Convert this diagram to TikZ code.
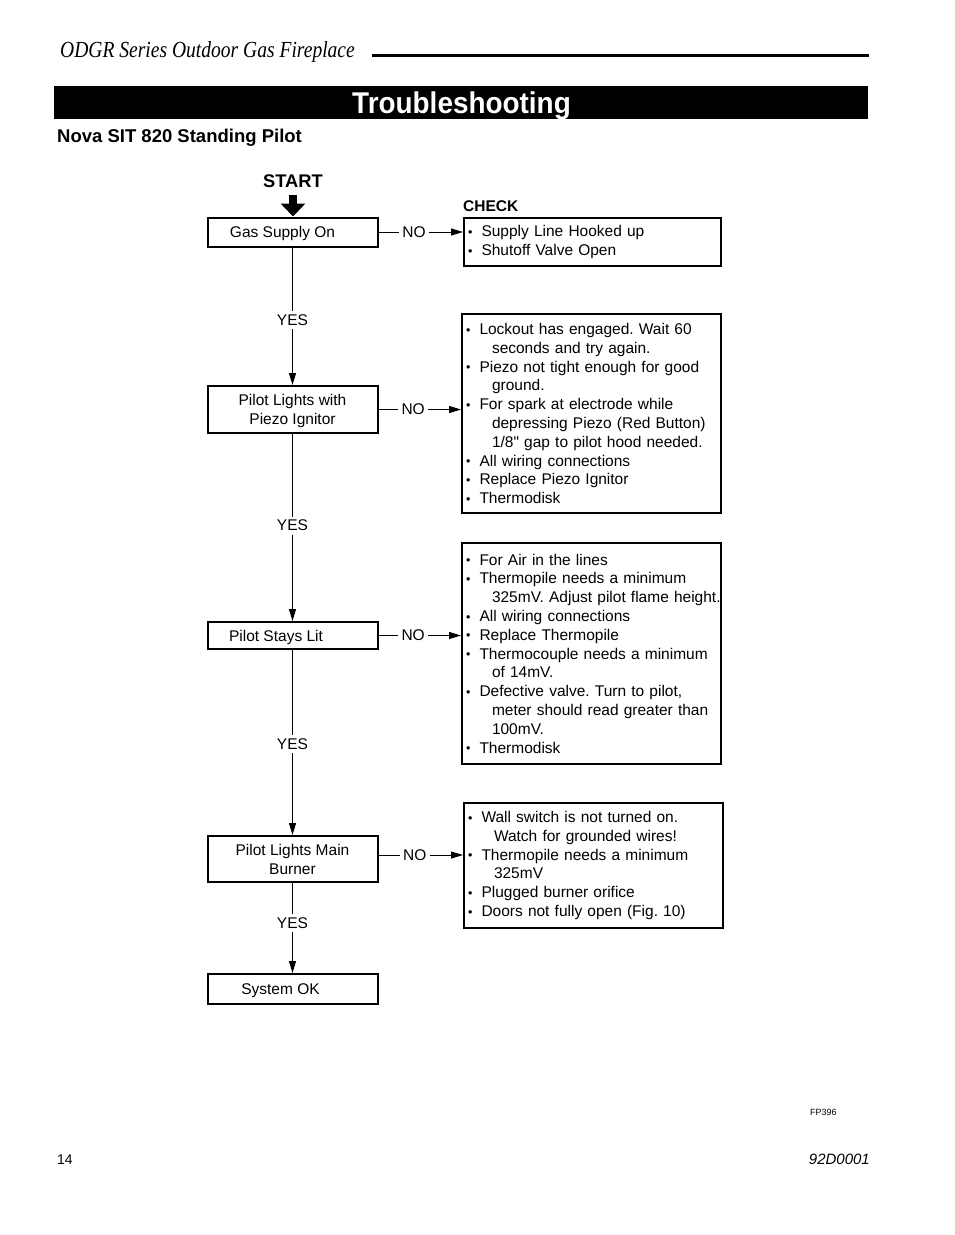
\documentclass[tikz,border=0pt]{standalone}
\usepackage{fontspec}
\setmainfont{Liberation Sans}[Ligatures=TeXOff]
\newfontfamily\serifit{Liberation Serif}
\usetikzlibrary{arrows.meta}
\frenchspacing
\newcommand\bul{\makebox[13.5pt][l]{\raisebox{0.4pt}{\fontsize{12.5}{12.5}\selectfont •}}}
\newcommand\itm[1]{\mbox{\bul#1}}
\newcommand\cnt[1]{\mbox{\hspace*{26pt}#1}}
\begin{document}
\begin{tikzpicture}[x=1pt,y=-1pt,
  txt/.style={font=\fontsize{15.5}{18.8}\selectfont},
  stepbox/.style={draw, line width=2pt, txt, inner sep=0pt, align=center, minimum width=170pt, text depth=0pt},
  chkbox/.style={draw, line width=2pt, txt, inner xsep=4pt, inner ysep=0pt, align=left},
  conn/.style={line width=1pt, -{Triangle[length=12pt,width=7pt]}},
  lbl/.style={fill=white, txt, inner xsep=3.5pt, inner ysep=3.5pt},
]
\useasboundingbox (0,0) rectangle (954,1235);
% header
\node[anchor=base west, inner sep=0pt, font=\serifit\itshape\fontsize{23}{23}\selectfont] (hdr) at (60,57) {\scalebox{0.85}[1]{ODGR Series Outdoor Gas Fireplace}};
\draw[line width=3pt] (372,55) -- (869,55);
\node[fill=black, minimum width=814pt, minimum height=33pt, inner sep=0pt] (bar) at (461,102.5) {};
\node[anchor=base, inner sep=0pt, text=white, font=\bfseries\fontsize{30}{30}\selectfont] (bartitle) at (461.5,113) {\scalebox{0.93}[1]{Troubleshooting}};
\node[anchor=base west, inner sep=0pt, font=\bfseries\fontsize{18.5}{18.5}\selectfont] (sub) at (57,142) {Nova SIT 820 Standing Pilot};
% start
\node[anchor=base, font=\bfseries\fontsize{18.3}{18.3}\selectfont] (start) at (293,187) {START};
\node[anchor=base west, inner sep=0pt, font=\bfseries\fontsize{15.5}{15.5}\selectfont] (check) at (463,211) {CHECK};
% steps
\node[stepbox, minimum height=29pt] (b1) at (292.5,232) {Gas Supply On\hspace*{20pt}};
\node[stepbox, minimum height=47pt] (b2) at (292.5,409.5) {Pilot Lights with\\Piezo Ignitor};
\node[stepbox, minimum height=27pt] (b3) at (292.5,635.5) {Pilot Stays Lit\hspace*{33pt}};
\node[stepbox, minimum height=46pt] (b4) at (292.5,859) {Pilot Lights Main\\Burner};
\node[stepbox, minimum height=30pt] (b5) at (292.5,989) {System OK\hspace*{24pt}};
% checks
\node[chkbox, text width=249pt, minimum height=48pt] (c1) at (592.5,242) {\itm{Supply Line Hooked up}\\\itm{Shutoff Valve Open}};
\node[chkbox, text width=251pt, minimum height=199pt] (c2) at (591.5,413.5) {\itm{Lockout has engaged. Wait 60}\\\cnt{seconds and try again.}\\\itm{Piezo not tight enough for good}\\\cnt{ground.}\\\itm{For spark at electrode while}\\\cnt{depressing Piezo (Red Button)}\\\cnt{1/8" gap to pilot hood needed.}\\\itm{All wiring connections}\\\itm{Replace Piezo Ignitor}\\\itm{Thermodisk}};
\node[chkbox, text width=251pt, minimum height=221pt] (c3) at (591.5,653.5) {\itm{For Air in the lines}\\\itm{Thermopile needs a minimum}\\\cnt{325mV. Adjust pilot flame height.}\\\itm{All wiring connections}\\\itm{Replace Thermopile}\\\itm{Thermocouple needs a minimum}\\\cnt{of 14mV.}\\\itm{Defective valve. Turn to pilot,}\\\cnt{meter should read greater than}\\\cnt{100mV.}\\\itm{Thermodisk}};
\node[chkbox, text width=251pt, minimum height=125pt] (c4) at (593.5,865.5) {\itm{Wall switch is not turned on.}\\\cnt{Watch for grounded wires!}\\\itm{Thermopile needs a minimum}\\\cnt{325mV}\\\itm{Plugged burner orifice}\\\itm{Doors not fully open (Fig. 10)}};
% connectors
\draw[line width=8pt, -{Triangle[length=13pt,width=24pt]}] ([yshift=-4pt]start.south) -- (start.south |- b1.north);
\draw[conn] (b1) -- node[lbl, pos=0.525] (y1) {YES} (b2);
\draw[conn] (b2) -- node[lbl, pos=0.49] (y2) {YES} (b3);
\draw[conn] (b3) -- node[lbl, pos=0.51] (y3) {YES} (b4);
\draw[conn] (b4) -- node[lbl, pos=0.446] (y4) {YES} (b5);
\draw[conn] (b1.east) -- node[lbl, pos=0.42] (n1) {NO} (c1.west |- b1.east);
\draw[conn] (b2.east) -- node[lbl, pos=0.42] (n2) {NO} (c2.west |- b2.east);
\draw[conn] (b3.east) -- node[lbl, pos=0.42] (n3) {NO} (c3.west |- b3.east);
\coordinate (b4e) at ([yshift=4pt]b4.east);
\draw[conn] (b4e) -- node[lbl, pos=0.43] (n4) {NO} (c4.west |- b4e);
% footer
\node[anchor=base west, inner sep=0pt, font=\fontsize{9}{9}\selectfont] (fp) at (810,1115) {FP396};
\node[anchor=base west, inner sep=0pt, font=\fontsize{14}{14}\selectfont] (pg) at (57,1164) {14};
\node[anchor=base east, inner sep=0pt, font=\itshape\fontsize{15}{15}\selectfont] (doc) at (870,1164) {92D0001};
\end{tikzpicture}
\end{document}
